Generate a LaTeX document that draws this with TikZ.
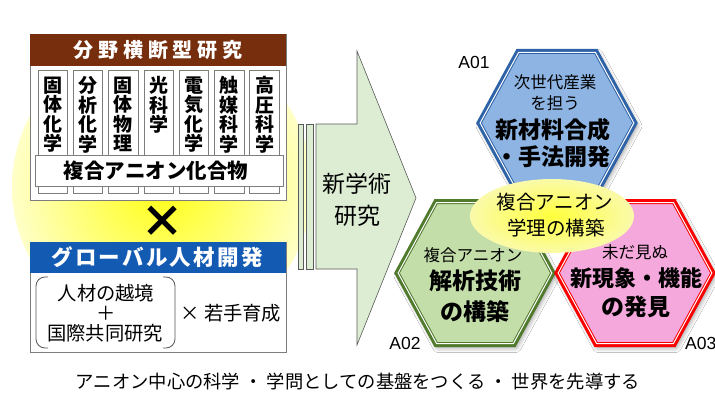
\documentclass[tikz,border=0pt]{standalone}
\usepackage{fontspec}
\setmainfont{Noto Sans CJK JP}
\newfontfamily\arialf{Liberation Sans}
\usetikzlibrary{shadows.blur}
\definecolor{brownhd}{RGB}{118,46,12}
\definecolor{bluehd}{RGB}{18,90,178}
\definecolor{boxgray}{RGB}{125,125,125}
\definecolor{arrowfill}{RGB}{221,237,211}
\definecolor{arrowline}{RGB}{90,90,90}
\definecolor{hexbluefill}{RGB}{141,180,226}
\definecolor{hexblueline}{RGB}{46,99,168}
\definecolor{hexgreenfill}{RGB}{195,222,168}
\definecolor{hexgreenline}{RGB}{80,122,44}
\definecolor{hexpinkfill}{RGB}{244,168,220}
\definecolor{hexpinkline}{RGB}{250,0,0}
\definecolor{glowin}{RGB}{255,255,20}
\definecolor{glowout}{RGB}{255,255,200}
\definecolor{ellin}{RGB}{255,255,60}
\definecolor{ellout}{RGB}{250,250,170}
\newcommand{\hexp}[4]{(#1-#3,#2) -- (#1-#3/2,#2-#4) -- (#1+#3/2,#2-#4) -- (#1+#3,#2) -- (#1+#3/2,#2+#4) -- (#1-#3/2,#2+#4) -- cycle}
\newcommand{\hexdraw}[4]{%
  \fill[#3, blur shadow={shadow xshift=2pt,shadow yshift=-3pt,shadow blur radius=5pt,shadow opacity=45}] \hexp{#1}{#2}{78}{71.5};
  \draw[#4, line width=5pt, line join=miter] \hexp{#1}{#2}{78}{71.5};
  \draw[white, line width=1pt, line join=miter] \hexp{#1}{#2}{76.85}{70.5};
}
\newcommand{\lsp}{\kern4.8pt}
\tikzset{
  hdtext/.style={text=white, inner sep=0pt, font=\bfseries\fontsize{21}{24}\selectfont},
  coltext/.style={anchor=north, align=center, inner sep=0pt, font=\bfseries\fontsize{19}{19.5}\selectfont},
  plain/.style={inner sep=0pt, font=\fontsize{19.3}{21}\selectfont},
  small/.style={inner sep=0pt, font=\fontsize{16.5}{18}\selectfont},
  big/.style={inner sep=0pt, font=\bfseries\fontsize{23}{25}\selectfont},
  lab/.style={inner sep=0pt, font=\arialf\fontsize{17.5}{19}\selectfont},
  graybox/.style={draw=boxgray, fill=white, line width=0.8pt},
  arrowpart/.style={draw=arrowline, fill=arrowfill, line width=0.6pt}
}
\begin{document}
\begin{tikzpicture}[x=1pt,y=-1pt]
\useasboundingbox (0,0) rectangle (715,396);
\fill[white] (0,0) rectangle (715,396);
% yellow glow
\shade[inner color=glowin, outer color=glowout] (162,187) circle[radius=150];
% top box
\draw[graybox] (30,34) rectangle (286,200);
\fill[brownhd] (30.4,34.4) rectangle (285.6,66);
\node[hdtext, font=\bfseries\fontsize{20}{24}\selectfont] (hd1) at (158,50) {分\lsp 野\lsp 横\lsp 断\lsp 型\lsp 研\lsp 究};
\foreach \t [count=\i from 0] in {{固\\体\\化\\学},{分\\析\\化\\学},{固\\体\\物\\理},{光\\科\\学},{電\\気\\化\\学},{触\\媒\\科\\学},{高\\圧\\科\\学}}{
  \draw[graybox] ({38+\i*35.3},70) rectangle ++(29.5,123);
  \node[coltext] (col\i) at ({52.75+\i*35.3},76.5) {\t};
}
\draw[graybox] (35,155) rectangle (283,186);
\node[inner sep=0pt, font=\bfseries\fontsize{20.5}{22}\selectfont] (comp) at (156,170.5) {複合アニオン化合物};
% cross
\node[inner sep=0pt, font=\bfseries\fontsize{44}{44}\selectfont] (cross) at (162,222) {×};
% global box
\draw[graybox] (30,242) rectangle (286,352);
\fill[bluehd] (30.4,242.4) rectangle (285.6,273);
\node[hdtext, font=\bfseries\fontsize{21.5}{24}\selectfont] (hd2) at (157,257.5) {グ\kern2.2ptロ\kern2.2ptー\kern2.2ptバ\kern2.2ptル\kern2.2pt人\kern2.2pt材\kern2.2pt開\kern2.2pt発};
\draw[boxgray!70!black, line width=0.8pt, rounded corners=9pt] (48,277) -- (36,277) -- (36,348) -- (48,348);
\draw[boxgray!70!black, line width=0.8pt, rounded corners=9pt] (163,277) -- (175,277) -- (175,348) -- (163,348);
\node[plain] (g1) at (106,293) {人材の越境};
\node[plain] (g2) at (106,313) {＋};
\node[plain] (g3) at (105,333) {国際共同研究};
\node[plain] (g4) at (231,313) {×\kern4pt 若手育成};
% bars and arrow
\draw[arrowpart] (298,124) rectangle (303,269);
\draw[arrowpart] (306,124) rectangle (313,269);
\draw[arrowpart, line join=miter] (316,124) -- (357,124) -- (357,51) -- (416,198) -- (357,345) -- (357,269) -- (316,269) -- cycle;
\node[plain, font=\fontsize{23}{25}\selectfont] (ar1) at (357,184) {新学術};
\node[plain, font=\fontsize{23}{25}\selectfont] (ar2) at (357,216) {研究};
% hexagons
\hexdraw{557}{123}{hexbluefill}{hexblueline}
\hexdraw{475}{273}{hexgreenfill}{hexgreenline}
\hexdraw{635}{273}{hexpinkfill}{hexpinkline}
\node[small] (a1t1) at (555,82) {次世代産業};
\node[small] (a1t2) at (555,103) {を担う};
\node[big] (a1t3) at (553,130) {新材料合成};
\node[big] (a1t4) at (553,157) {・手法開発};
\node[small] (a2t1) at (473,255) {複合アニオン};
\node[big] (a2t2) at (475,281) {解析技術};
\node[big] (a2t3) at (475,312) {の構築};
\node[small] (a3t1) at (635,252) {未だ見ぬ};
\node[big, font=\bfseries\fontsize{22}{25}\selectfont] (a3t2) at (636,278) {新現象・機能};
\node[big] (a3t3) at (636,307) {の発見};
% central ellipse
\shade[inner color=ellin, outer color=ellout] (552,216) ellipse[x radius=82, y radius=37];
\node[plain, font=\fontsize{19.5}{22}\selectfont] (e1) at (555,202) {複合アニオン};
\node[plain, font=\fontsize{19.5}{22}\selectfont] (e2) at (556,228) {学理の構築};
% labels
\node[lab] (la1) at (474,62) {A01};
\node[lab] (la2) at (405,343) {A02};
\node[lab, anchor=west] (la3) at (685,343) {A03};
% caption
\node[inner sep=0pt, font=\fontsize{18.3}{20}\selectfont] (cap) at (358,382) {アニオン中心の科学 ・ 学問としての基盤をつくる ・ 世界を先導する};
\end{tikzpicture}
\end{document}
